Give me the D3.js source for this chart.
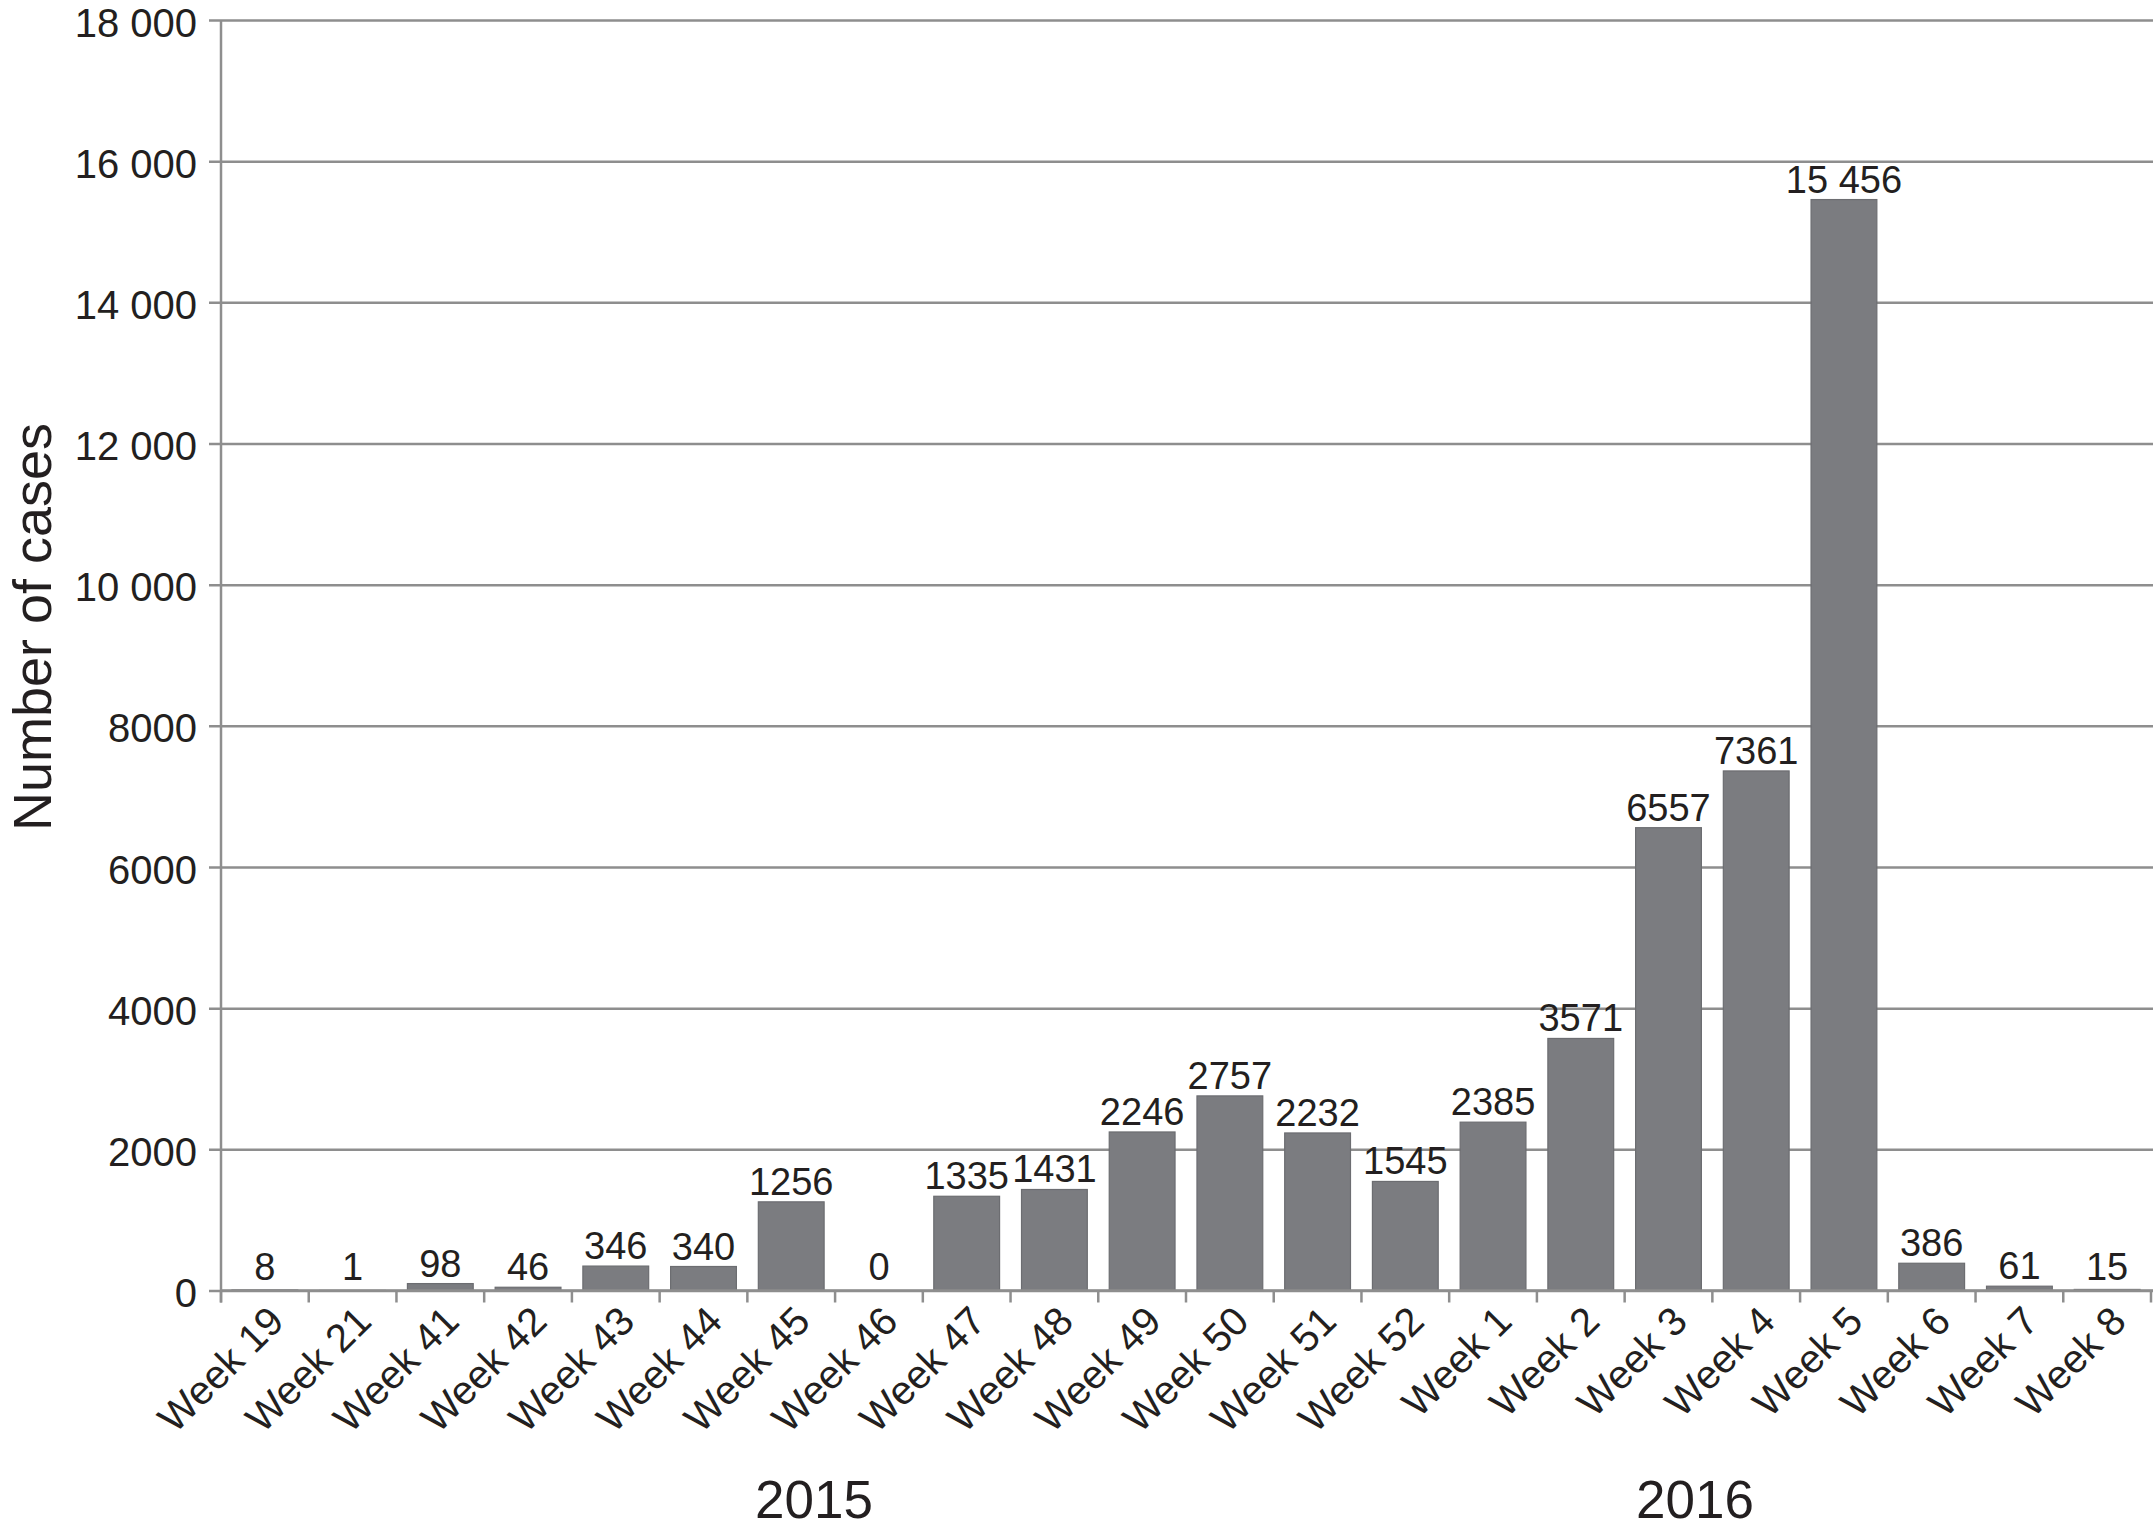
<!DOCTYPE html>
<html>
<head>
<meta charset="utf-8">
<script src="https://d3js.org/d3.v7.min.js"></script>
<style>
  html, body { margin: 0; padding: 0; background: #ffffff; }
  svg { display: block; }
  text { font-family: "Liberation Sans", Arial, Helvetica, sans-serif; fill: #231f20; }
</style>
</head>
<body>
<svg id="chart" width="2153" height="1530"></svg>
<script>
// ---- data ----
const categories = ["Week 19","Week 21","Week 41","Week 42","Week 43","Week 44","Week 45","Week 46","Week 47","Week 48","Week 49","Week 50","Week 51","Week 52","Week 1","Week 2","Week 3","Week 4","Week 5","Week 6","Week 7","Week 8"];
const cases = [8, 1, 98, 46, 346, 340, 1256, 0, 1335, 1431, 2246, 2757, 2232, 1545, 2385, 3571, 6557, 7361, 15456, 386, 61, 15];
const yTicks = [0, 2000, 4000, 6000, 8000, 10000, 12000, 14000, 16000, 18000];
const years = ["2015", "2016"];
const yAxisTitle = "Number of cases";

// ---- layout ----
const x0 = 221, x1 = 2151, gridRight = 2153;
const yBottom = 1290.5, yTop = 20;
const gridColor = "#8e8e8e";

const svg = d3.select("#chart");

const fmt = v => {
  const s = String(v);
  return v >= 10000 ? s.slice(0, s.length - 3) + " " + s.slice(-3) : s;
};

const x = d3.scaleBand().domain(categories).range([x0, x1]).paddingInner(0.25).paddingOuter(0.125);
const y = d3.scaleLinear().domain([0, 18000]).range([yBottom, yTop]);

// gridlines + y ticks
const yAxis = d3.axisLeft(y).tickValues(yTicks).tickSize(0).tickFormat(fmt);
const gy = svg.append("g").attr("transform", `translate(${x0},0)`).call(yAxis);
gy.select(".domain").remove();
gy.selectAll(".tick text")
  .attr("x", -24)
  .attr("dy", null)
  .attr("y", 16)
  .style("font-size", "40px")
  .style("font-family", "'Liberation Sans', Arial, sans-serif")
  .attr("fill", "#231f20");
gy.selectAll(".tick line").remove();
gy.selectAll(".tick").append("line")
  .attr("x1", -12).attr("x2", gridRight - x0)
  .attr("y1", 0).attr("y2", 0)
  .attr("stroke", gridColor).attr("stroke-width", 2.5);

// bars
svg.append("g").selectAll("rect").data(categories).join("rect")
  .attr("x", d => x(d))
  .attr("width", x.bandwidth())
  .attr("y", (d, i) => y(cases[i]))
  .attr("height", (d, i) => yBottom - y(cases[i]))
  .attr("fill", "#7b7c80")
  .attr("stroke", "#6c6d71")
  .attr("stroke-width", 1.2);

// x axis line and tick marks at band boundaries
svg.append("line")
  .attr("x1", x0).attr("x2", gridRight)
  .attr("y1", yBottom).attr("y2", yBottom)
  .attr("stroke", gridColor).attr("stroke-width", 2.5);
const step = x.step();
const bounds = d3.range(categories.length + 1).map(i => x0 + i * step);
svg.append("g").selectAll("line").data(bounds).join("line")
  .attr("x1", d => d).attr("x2", d => d)
  .attr("y1", yBottom).attr("y2", yBottom + 12)
  .attr("stroke", gridColor).attr("stroke-width", 2.5);

// y axis line
svg.append("line")
  .attr("x1", x0).attr("x2", x0)
  .attr("y1", yTop).attr("y2", yBottom + 12)
  .attr("stroke", gridColor).attr("stroke-width", 2.5);

// data labels
svg.append("g").selectAll("text").data(categories).join("text")
  .attr("x", d => x(d) + x.bandwidth() / 2)
  .attr("y", (d, i) => Math.min(y(cases[i]) - 7, yBottom - 11))
  .attr("text-anchor", "middle")
  .style("font-size", "38px")
  .text((d, i) => fmt(cases[i]));

// x category labels, rotated -45
svg.append("g").selectAll("text").data(categories).join("text")
  .attr("transform", d => `translate(${x(d) + x.bandwidth() / 2 + 21},${yBottom + 33}) rotate(-45)`)
  .attr("text-anchor", "end")
  .style("font-size", "40px")
  .text(d => d);

// year labels
const yearX = [814, 1695];
svg.append("g").selectAll("text").data(years).join("text")
  .attr("x", (d, i) => yearX[i])
  .attr("y", 1518)
  .attr("text-anchor", "middle")
  .style("font-size", "53px")
  .text(d => d);

// y axis title
svg.append("text")
  .attr("transform", `translate(51,627) rotate(-90)`)
  .attr("text-anchor", "middle")
  .style("font-size", "54px")
  .text(yAxisTitle);
</script>
</body>
</html>
